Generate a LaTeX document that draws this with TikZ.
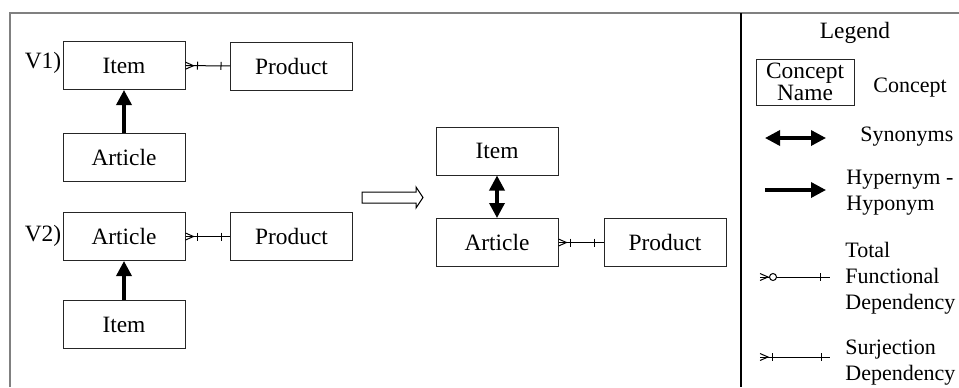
\documentclass[tikz,border=0pt]{standalone}
\usepackage{fontspec}
\setmainfont{Liberation Serif}
\usetikzlibrary{arrows.meta,decorations.markings}
\tikzstyle{concept} = [draw=black!85, line width=0.5pt, minimum width=61pt, minimum height=24pt, inner sep=0pt]
\tikzstyle{legtext} = [inner sep=0pt, anchor=west, align=left, font=\fontsize{11pt}{13pt}\selectfont]
\tikzstyle{hyper} = [line width=1.7pt, -{Triangle[length=7.5pt,width=7.5pt]}]
\tikzstyle{syn} = [line width=1.7pt, {Triangle[length=7.5pt,width=7.5pt]}-{Triangle[length=7.5pt,width=7.5pt]}]
\tikzstyle{surj} = [line width=0.5pt, postaction={decorate}, decoration={markings,
    mark=at position 4pt with {\draw (-4pt,1.75pt) -- (0,0) -- (-4pt,-1.75pt);},
    mark=at position 6pt with {\draw (0,2pt) -- (0,-2pt);},
    mark=at position -4.5pt with {\draw (0,2pt) -- (0,-2pt);}}]
\tikzstyle{tfd} = [line width=0.5pt, postaction={decorate}, decoration={markings,
    mark=at position 4pt with {\draw (-4pt,1.75pt) -- (0,0) -- (-4pt,-1.75pt);},
    mark=at position 6.5pt with {\draw[fill=white] (0,0) circle (1.75pt);},
    mark=at position -5pt with {\draw (0,2pt) -- (0,-2pt);}}]

\begin{document}
\begin{tikzpicture}[x=0.5pt, y=-0.5pt, every node/.style={font=\fontsize{11.7pt}{13pt}\selectfont}]
        \useasboundingbox (0,0) rectangle (959,387);
        \draw[gray, line width=1pt] (10,387) -- (10,13) -- (959,13);
        \draw[line width=0.75pt] (741,13) -- (741,387);
        \node(v1)[inner sep=0pt] at (43,63){V1)};
        \node[concept](v1item) at (124,65.5){Item};
        \node[concept](v1prod) at (291.5,66){Product};
        \node[concept](v1art) at (124,157.5){Article};
        \node(v2)[inner sep=0pt] at (43,236){V2)};
        \node[concept](v2art) at (124,236.5){Article};
        \node[concept](v2prod) at (291.5,236.5){Product};
        \node[concept](v2item) at (124,324.5){Item};
        \node[concept](item) at (497,151){Item};
        \node[concept](art) at (497,242.5){Article};
        \node[concept](prod) at (665,242.5){Product};
        \draw[surj](v1item)--(v1prod);
        \draw[surj](v2art)--(v2prod);
        \draw[surj](art)--(prod);
        \draw[hyper](v1art)--(v1item);
        \draw[hyper](v2item)--(v2art);
        \draw[syn](item)--(art);
        \draw[line width=0.5pt] (362,192) -- (416,192) -- (416,187) -- (423,197.5) -- (416,208) -- (416,203) -- (362,203) -- cycle;
        \node(legend)[inner sep=0pt] at (855,33){Legend};
        \node[concept, minimum width=49pt, minimum height=23pt, align=center, font=\fontsize{11.7pt}{11pt}\selectfont](cname) at (805,82){Concept\\Name};
        \node[legtext](lconcept) at (873,88){Concept};
        \coordinate (syna) at (765,138);
        \coordinate (synb) at (826,138);
        \draw[syn](syna)--(synb);
        \node[legtext](lsyn) at (860,137){Synonyms};
        \coordinate (hypa) at (765,190);
        \coordinate (hypb) at (826,190);
        \draw[hyper](hypa)--(hypb);
        \node[legtext](lhyp) at (846,193){Hypernym -\\Hyponym};
        \coordinate (tfda) at (760,277);
        \coordinate (tfdb) at (830,277);
        \draw[tfd](tfda)--(tfdb);
        \node[legtext](ltfd) at (845,278){Total\\Functional\\Dependency};
        \coordinate (sja) at (760,357);
        \coordinate (sjb) at (830,357);
        \draw[surj](sja)--(sjb);
        \node[legtext](lsj) at (845,363){Surjection\\Dependency};
\end{tikzpicture}
\end{document}
